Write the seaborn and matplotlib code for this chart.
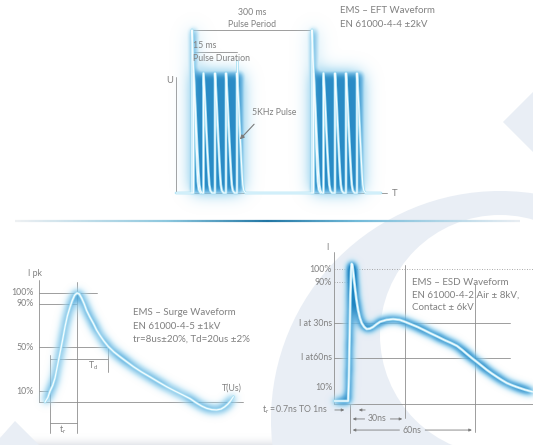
import numpy as np
import matplotlib
matplotlib.use('Agg')
import matplotlib.pyplot as plt
import seaborn as sns
from matplotlib.colors import LinearSegmentedColormap
from matplotlib.patches import Circle, Polygon
from matplotlib.collections import LineCollection

# ---- EFT burst (drawing units: x ~ time, y ~ U / pulse height) ----
eft_burst_starts = [16, 136]
eft_pulse_offsets = [1.5, 11.5, 23, 34, 45]
eft_pulse_dt = [0, 0, 1, 2, 3, 4, 5, 5.8, 6.8, 8.5]
eft_pulse_u = [0, 1, 0.85, 0.68, 0.5, 0.33, 0.17, 0.07, 0.02, 0]
eft_period_level = 1.36
eft_duration_level = 1.175

# ---- Surge (t in us, I in % of I pk) ----
surge_t = [1.5, 2.2, 2.75, 3.4, 4.0, 4.6, 5.25, 5.9, 6.5, 7.1, 7.75, 8.3, 8.9, 9.5,
           10.1, 10.7, 11.3, 11.9, 12.7, 13.6, 14.4, 15.25, 16.2, 17.3, 18.7, 20.25,
           21.9, 23.6, 25.6, 27.75, 29.8, 31.9, 34.0, 36.0, 37.8, 39.4, 40.7, 41.9,
           43.2, 44.4, 45.5, 46.4, 47.2, 47.9, 48.6]
surge_i = [0, 4, 10, 15, 22, 33, 45, 57, 69, 79, 87, 93, 98, 100,
           99, 95, 90, 84, 78, 72, 66, 61, 56, 51, 46, 41.5,
           37, 32.4, 27.6, 23, 18.5, 14, 10, 6.4, 3, -1, -3.8, -5.8,
           -7, -7.3, -6.5, -4.5, -2, 1, 4.9]
surge_levels = [100, 90, 50, 10]
surge_labels = ['100%', '90%', '50%', '10%']
surge_t10, surge_tpk, surge_t50 = 2.75, 9.5, 17.25

# ---- ESD (t in ns, I in %) ----
esd_t = [-8.5, -4, -1.0, -0.6, -0.2, 0.2, 0.6, 0.9, 1.3, 1.8, 2.7, 3.5, 4.4, 5.4, 6.4,
         7.7, 9.1, 10.8, 12.5, 14.5, 16.4, 20, 23.5, 27, 30, 33.5, 37, 40.3, 43.6,
         47.7, 51.8, 55.1, 58.4, 61.1, 63.8, 66.5, 69.3, 72, 74.7, 77.4, 80.2, 82.9,
         85.6, 88.3, 91, 95.5, 100]
esd_i = [0, 0, 0, 18, 50, 80, 98, 104, 103, 97, 86, 77, 69, 63, 59,
         56.2, 54.5, 54.8, 56, 58.2, 60, 61.5, 62, 61.5, 60, 58, 56, 53.8, 51.5,
         48.8, 46, 44, 41.7, 38.8, 35.6, 32.5, 29.5, 26.5, 23.5, 20.8, 18.2, 15.8,
         13.6, 12, 10.6, 8.5, 6.8]
esd_levels = [100, 90, 59, 32.6, 10]
esd_labels = ['100%', '90%', 'I at 30ns', 'I at60ns', '10%']
esd_marks = [30, 68]

W, H = 533, 445
GRAY = '#8e8e8e'
TXT = '#808080'
FS = 6.3
FS_DESC = 7.0
RING = '#e9eef5'

sns.set_theme(style='white')
plt.rcParams['font.family'] = ['Lato', 'DejaVu Sans']

GLOW = LinearSegmentedColormap.from_list('glow', [
    (0.0, (0.78, 0.91, 0.97, 0.0)),
    (0.25, (0.62, 0.84, 0.94, 0.55)),
    (0.55, (0.38, 0.70, 0.88, 0.85)),
    (1.0, (0.12, 0.52, 0.76, 1.0))])


def box(x0, y0, x1, y1):
    return [x0 / W, 1 - y1 / H, (x1 - x0) / W, (y1 - y0) / H]


def blur(a, s):
    r = int(3 * s) + 1
    k = np.exp(-0.5 * (np.arange(-r, r + 1) / s) ** 2)
    k /= k.sum()
    a = np.apply_along_axis(lambda v: np.convolve(v, k, mode='same'), 0, a)
    a = np.apply_along_axis(lambda v: np.convolve(v, k, mode='same'), 1, a)
    return a


def grid_of(ax):
    x0, x1 = ax.get_xlim()
    y0, y1 = ax.get_ylim()
    bb = ax.get_position()
    nx, ny = int(bb.width * W * 2), int(bb.height * H * 2)
    return x0, x1, y0, y1, nx, ny


def show_glow(ax, img):
    x0, x1, y0, y1, nx, ny = grid_of(ax)
    ax.imshow(np.clip(img, 0, 1), extent=(x0, x1, y0, y1), origin='lower', aspect='auto',
              cmap=GLOW, vmin=0, vmax=1, interpolation='bilinear', zorder=3)
    ax.set_xlim(x0, x1)
    ax.set_ylim(y0, y1)


def line_glow(ax, xs, ys, sigma=4, gain=0.6):
    x0, x1, y0, y1, nx, ny = grid_of(ax)
    img = np.zeros((ny, nx))
    gx = (np.asarray(xs) - x0) / (x1 - x0) * nx
    gy = (np.asarray(ys) - y0) / (y1 - y0) * ny
    for i in range(len(gx) - 1):
        n = int(np.hypot(gx[i + 1] - gx[i], gy[i + 1] - gy[i]) * 2) + 2
        px = np.linspace(gx[i], gx[i + 1], n).astype(int)
        py = np.linspace(gy[i], gy[i + 1], n).astype(int)
        ok = (px >= 0) & (px < nx) & (py >= 0) & (py < ny)
        img[py[ok], px[ok]] = 1
    s = sigma * 2
    img = blur(img, s) * np.sqrt(2 * np.pi) * s * gain
    show_glow(ax, img)


def core_line(ax, xs, ys, lw=1.0):
    sns.lineplot(x=xs, y=ys, sort=False, estimator=None, color='#a6e0f4', lw=lw + 1.1, ax=ax, zorder=4)
    sns.lineplot(x=xs, y=ys, sort=False, estimator=None, color='#f4fcff', lw=lw, ax=ax, zorder=5)


def guide(ax, x, y, ls='-'):
    ax.plot(x, y, color=GRAY, lw=0.6, ls=ls, zorder=2)


def txt(ax, x, y, s, ha='left', size=FS):
    ax.text(x, y, s, ha=ha, va='center', fontsize=size, color=TXT, zorder=6)


fig = plt.figure(figsize=(W / 100, H / 100), dpi=100)

# ---- background decoration ----
bg = fig.add_axes([0, 0, 1, 1], zorder=0)
bg.add_patch(Circle((500, 420), 229, fc=RING, ec='none'))
bg.add_patch(Circle((500, 335), 120, fc='white', ec='none'))
bg.add_patch(Polygon([(503, 122), (545, 80), (545, 164)], fc=RING, ec='none'))
bg.add_patch(Polygon([(0, 438), (15, 421), (42, 448), (0, 448)], fc=RING, ec='none'))
strip = LinearSegmentedColormap.from_list('s', [(1, 1, 1, 0), (0.9, 0.91, 0.93, 1)])
bg.imshow(np.linspace(0, 1, 20)[:, None], extent=(0, W, 445, 433), cmap=strip, aspect='auto')
sep_x = np.linspace(15, 520, 400)
sep_cmap = LinearSegmentedColormap.from_list('sep', [
    (0.0, (0.93, 0.94, 0.95)), (0.3, (0.55, 0.78, 0.87)), (0.5, (0.13, 0.46, 0.64)),
    (0.68, (0.45, 0.73, 0.85)), (1.0, (0.91, 0.93, 0.95))])
segs = [[(sep_x[i], 221), (sep_x[i + 1], 221)] for i in range(len(sep_x) - 1)]
bg.add_collection(LineCollection(segs, colors=sep_cmap(np.linspace(0, 1, len(segs))), lw=1.6))
bg.set_xlim(0, W)
bg.set_ylim(H, 0)
bg.axis('off')

# ---- EFT panel ----
ax = fig.add_axes(box(160, 0, 410, 215), zorder=1)
ax.set_xlim(-16, 234)
ax.set_ylim(-0.1833, 1.6083)
ax.patch.set_alpha(0)

wx, wy = [0], [0]
for s in eft_burst_starts:
    for o in eft_pulse_offsets:
        wx += [s + o + d for d in eft_pulse_dt]
        wy += eft_pulse_u
wx += [205]
wy += [0]

x0, x1, y0, y1, nx, ny = grid_of(ax)
X, Y = np.meshgrid(np.linspace(x0, x1, nx), np.linspace(y0, y1, ny))
mask = np.zeros_like(X)
for s in eft_burst_starts:
    body = (X >= s - 1) & (X <= s + eft_pulse_offsets[-1] + 6) & (Y >= 0) & (Y <= 1.0)
    col = (X >= s - 1) & (X <= s + 4) & (Y >= 0) & (Y <= eft_period_level)
    mask[body | col] = 1
img = np.maximum(blur(mask, 7) * 0.95, blur(mask, 18) * 0.7)
show_glow(ax, img)

guide(ax, [0, 0], [0.967, 0])
guide(ax, [0, 211], [0, 0])
s1, s2 = eft_burst_starts
guide(ax, [s1, s2], [eft_period_level] * 2)
guide(ax, [s1, s1 + eft_pulse_offsets[-1]], [eft_duration_level] * 2)
for s in eft_burst_starts:
    core_line(ax, [s + d for d in eft_pulse_dt], [u * eft_period_level for u in eft_pulse_u], lw=0.8)
core_line(ax, [s1 + eft_pulse_offsets[-1]] * 2, [0.9, 1.1], lw=0.8)
core_line(ax, wx, wy, lw=0.8)

txt(ax, -6, 0.94, 'U', ha='center', size=6.8)
txt(ax, 219, 0, 'T', ha='center', size=6.8)
txt(ax, 76, 1.508, '300 ms', ha='center')
txt(ax, 76, 1.408, 'Pulse Period', ha='center')
txt(ax, 17, 1.225, '15 ms')
txt(ax, 17, 1.12, 'Pulse Duration')
txt(ax, 76, 0.675, '5KHz Pulse')
ax.annotate('', xy=(62, 0.43), xytext=(80, 0.59),
            arrowprops=dict(arrowstyle='-|>', color='#7a7a7a', lw=0.8, mutation_scale=6), zorder=6)
txt(ax, 164, 1.517, 'EMS – EFT Waveform', size=FS_DESC)
txt(ax, 164, 1.408, 'EN 61000-4-4 ±2kV', size=FS_DESC)
ax.set_axis_off()

# ---- Surge panel ----
ax = fig.add_axes(box(0, 262, 260, 445), zorder=1)
ax.set_xlim(-9.75, 55.25)
ax.set_ylim(-39.45, 128.44)
ax.patch.set_alpha(0)
line_glow(ax, surge_t, surge_i, sigma=4.5, gain=0.45)
guide(ax, [0, 0], [112, 0])
guide(ax, [0, 51], [0, 0])
for lv, end in zip(surge_levels, [14.5, surge_tpk, surge_t50, surge_t10]):
    guide(ax, [0, end], [lv, lv])
guide(ax, [surge_tpk] * 2, [110, -28.4])
guide(ax, [surge_t10] * 2, [43, -28.4])
guide(ax, [surge_t50] * 2, [50, 27.5])
guide(ax, [surge_t10, surge_t50], [39.4, 39.4])
guide(ax, [surge_t10, surge_tpk], [-19.3, -19.3])
core_line(ax, surge_t, surge_i, lw=0.9)
for lv, lab in zip(surge_levels, surge_labels):
    txt(ax, -1.4, lv, lab, ha='right')
txt(ax, -0.9, 118, 'I pk', ha='center')
txt(ax, 13.5, 33, r'T$_\mathregular{d}$', ha='center')
txt(ax, 5.9, -25.5, r't$_\mathregular{r}$', ha='center')
txt(ax, 48.2, 12.8, 'T(Us)', ha='center')
txt(ax, 23.5, 81.7, 'EMS – Surge Waveform', size=FS_DESC)
txt(ax, 23.5, 69.2, 'EN 61000-4-5 ±1kV', size=FS_DESC)
txt(ax, 23.5, 57.8, 'tr=8us±20%, Td=20us ±2%', size=FS_DESC)
ax.set_axis_off()

# ---- ESD panel ----
ax = fig.add_axes(box(285, 235, 533, 445), zorder=1)
ax.set_xlim(-35.46, 99.84)
ax.set_ylim(-33.33, 125.76)
ax.patch.set_alpha(0)
line_glow(ax, esd_t, esd_i, sigma=4, gain=0.7)
yaxis_t = -8.7
guide(ax, [yaxis_t, yaxis_t], [113, -1.9])
guide(ax, [yaxis_t, 99.84], [-1.9, -1.9])
guide(ax, [yaxis_t, 99.84], [100, 100], ls=(0, (1, 2)))
guide(ax, [yaxis_t, 1.5], [90, 90], ls=(0, (1, 2)))
for lv in esd_levels[2:4]:
    guide(ax, [yaxis_t, 87.3], [lv, lv])
guide(ax, [esd_marks[0]] * 2, [103, -12.9])
guide(ax, [esd_marks[1]] * 2, [89, -23.5])
guide(ax, [0, 0], [-2, -24])
core_line(ax, esd_t, esd_i, lw=0.9)
for lv, lab in zip(esd_levels, esd_labels):
    txt(ax, -9.8, lv, lab, ha='right')
txt(ax, -12.5, 116, 'I', ha='center')
txt(ax, -12, -6.8, r't$_\mathregular{r}$ =0.7ns TO 1ns', ha='right')
arw = dict(arrowstyle='-|>', color='#7a7a7a', lw=0.6, mutation_scale=4)
ax.annotate('', xy=(-1.6, -6.8), xytext=(-9.8, -6.8), arrowprops=arw)
ax.annotate('', xy=(3.3, -6.8), xytext=(9.8, -6.8), arrowprops=arw)
for mark, yy, lab in [(esd_marks[0], -13.6, '30ns'), (esd_marks[1], -22, '60ns')]:
    mid = mark / 2
    txt(ax, mid, yy, lab, ha='center')
    ax.annotate('', xy=(0, yy), xytext=(mid - 5.5, yy), arrowprops=arw)
    ax.annotate('', xy=(mark, yy), xytext=(mid + 5.5, yy), arrowprops=arw)
txt(ax, 33.8, 90, 'EMS – ESD Waveform', size=FS_DESC)
txt(ax, 33.8, 80.5, 'EN 61000-4-2 Air ± 8kV,', size=FS_DESC)
txt(ax, 33.8, 71, 'Contact ± 6kV', size=FS_DESC)
ax.set_axis_off()

fig.savefig('out.png', dpi=100)
